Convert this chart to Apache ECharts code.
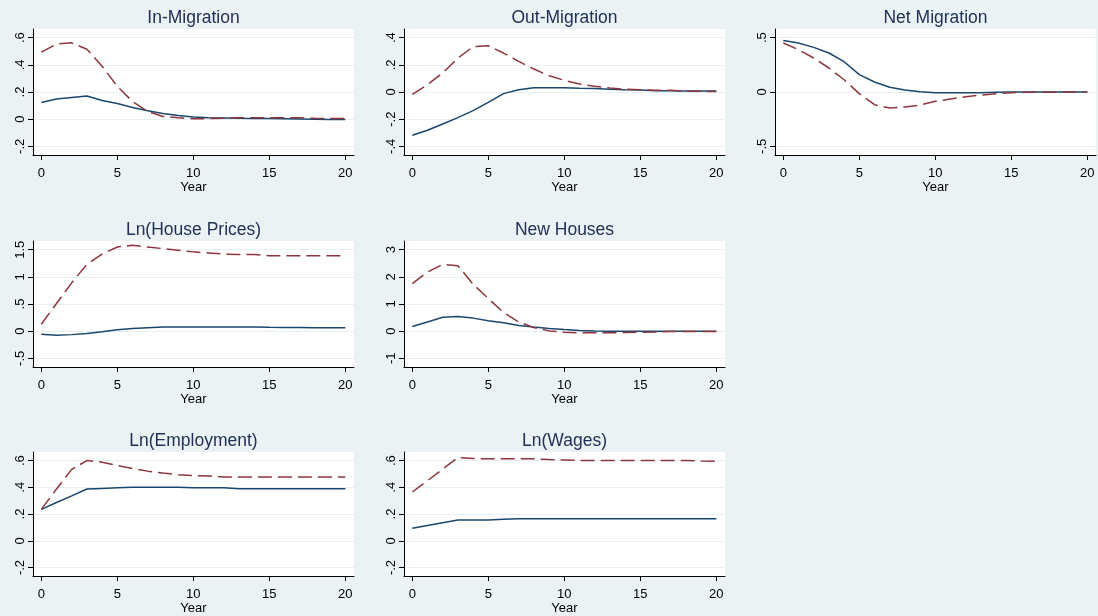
<!DOCTYPE html>
<html>
<head>
<meta charset="utf-8">
<script src="https://cdn.jsdelivr.net/npm/echarts@6/dist/echarts.min.js"></script>
<style>
html,body{margin:0;padding:0;background:#eaf2f3;}
#chart{width:1098px;height:616px;}
</style>
</head>
<body>
<div id="chart"></div>
<script>
// ---- data ----
const years = [0,1,2,3,4,5,6,7,8,9,10,11,12,13,14,15,16,17,18,19,20];
const xTicks = [0,5,10,15,20];

const panelTitles = ['In-Migration','Out-Migration','Net Migration','Ln(House Prices)','New Houses','Ln(Employment)','Ln(Wages)'];

const yTicksIn  = [-0.2,0,0.2,0.4,0.6];
const yTicksOut = [-0.4,-0.2,0,0.2,0.4];
const yTicksNet = [-0.5,0,0.5];
const yTicksHP  = [-0.5,0,0.5,1,1.5];
const yTicksNH  = [-1,0,1,2,3];
const yTicksEmp = [-0.2,0,0.2,0.4,0.6];
const yTicksWag = [-0.2,0,0.2,0.4,0.6];

const inSolid  = [0.123,0.148,0.160,0.170,0.138,0.116,0.086,0.062,0.042,0.027,0.015,0.010,0.008,0.006,0.005,0.004,0.003,0.002,0.000,-0.002,-0.003];
const inDash   = [0.494,0.553,0.562,0.515,0.390,0.241,0.130,0.057,0.020,0.010,0.003,0.004,0.007,0.010,0.010,0.010,0.010,0.010,0.006,0.005,0.005];

const outSolid = [-0.319,-0.282,-0.236,-0.189,-0.137,-0.076,-0.012,0.017,0.032,0.032,0.032,0.027,0.025,0.020,0.017,0.015,0.010,0.010,0.007,0.007,0.007];
const outDash  = [-0.017,0.054,0.140,0.250,0.334,0.341,0.287,0.226,0.169,0.120,0.086,0.059,0.042,0.030,0.020,0.017,0.012,0.012,0.005,0.005,0.003];

const netSolid = [0.475,0.451,0.411,0.359,0.279,0.160,0.092,0.043,0.018,0.003,-0.006,-0.006,-0.006,-0.006,-0.003,0.000,0.000,0.000,0.000,0.000,0.000];
const netDash  = [0.451,0.390,0.313,0.221,0.113,-0.015,-0.117,-0.147,-0.138,-0.120,-0.086,-0.064,-0.043,-0.028,-0.015,-0.006,-0.003,-0.003,-0.002,0.000,0.000];

const hpSolid  = [-0.058,-0.077,-0.064,-0.045,-0.013,0.026,0.051,0.064,0.077,0.077,0.077,0.077,0.077,0.077,0.077,0.070,0.067,0.067,0.064,0.064,0.064];
const hpDash   = [0.128,0.51,0.89,1.23,1.42,1.55,1.58,1.55,1.52,1.49,1.46,1.44,1.42,1.41,1.41,1.39,1.39,1.39,1.39,1.39,1.39];

const nhSolid  = [0.17,0.34,0.51,0.54,0.48,0.38,0.31,0.21,0.15,0.10,0.06,0.025,0.005,0.0,0.0,0.0,0.0,0.0,0.0,0.0,0.0];
const nhDash   = [1.75,2.18,2.46,2.41,1.73,1.20,0.69,0.34,0.13,0.01,-0.04,-0.06,-0.06,-0.06,-0.05,-0.04,-0.03,-0.01,-0.01,-0.01,-0.01];

const empSolid = [0.235,0.286,0.336,0.387,0.392,0.397,0.401,0.401,0.401,0.401,0.397,0.397,0.397,0.389,0.389,0.389,0.389,0.389,0.389,0.389,0.389];
const empDash  = [0.235,0.387,0.534,0.600,0.588,0.563,0.541,0.521,0.507,0.494,0.487,0.485,0.477,0.477,0.477,0.477,0.477,0.477,0.477,0.477,0.477];

const wagSolid = [0.093,0.114,0.135,0.156,0.156,0.156,0.161,0.164,0.164,0.164,0.164,0.164,0.164,0.164,0.164,0.164,0.164,0.164,0.164,0.164,0.164];
const wagDash  = [0.365,0.450,0.536,0.623,0.616,0.613,0.613,0.613,0.613,0.608,0.605,0.600,0.600,0.600,0.600,0.600,0.600,0.600,0.600,0.597,0.595];

const panelTicks = [yTicksIn,yTicksOut,yTicksNet,yTicksHP,yTicksNH,yTicksEmp,yTicksWag];
const panelSolid = [inSolid,outSolid,netSolid,hpSolid,nhSolid,empSolid,wagSolid];
const panelDash  = [inDash,outDash,netDash,hpDash,nhDash,empDash,wagDash];

// ---- layout ----
const cells = [[0,0],[0,1],[0,2],[1,0],[1,1],[2,0],[2,1]];
const colLeft = [33,404,775];
const rowTop = [29,241,452];
const PW = 321, PH = 126;
const padL = 8.3, padR = 8.7, padT = 8.7, padB = 8.7;
const FONT = 'Liberation Sans, Arial, sans-serif';
const BLUE = '#1a476f', RED = '#90353b';

function fmt(v){
  let s = String(Math.round(v*1000)/1000);
  s = s.replace(/^0\./,'.').replace(/^-0\./,'-.');
  return s;
}
function range(ticks, pixels, p0, p1){
  const a = ticks[0], b = ticks[ticks.length-1];
  const u = (b-a)/(pixels-p0-p1);
  return [a - p0*u, b + p1*u];
}

const grid=[], xAxis=[], yAxis=[], series=[], title=[];
panelTitles.forEach((t,i)=>{
  const [r,c] = cells[i];
  const left = colLeft[c], top = rowTop[r];
  grid.push({left:left, top:top, width:PW, height:PH, show:true, backgroundColor:'#ffffff', borderWidth:0, containLabel:false});
  const xr = range(xTicks, PW, padL, padR);
  const yr = range(panelTicks[i], PH, padB, padT);
  xAxis.push({
    type:'value', gridIndex:i, min:xr[0], max:xr[1],
    name:'Year', nameLocation:'middle', nameGap:21.5,
    nameTextStyle:{fontFamily:FONT, fontSize:13, color:'#000'},
    axisLine:{show:true, onZero:false, lineStyle:{color:'#000', width:1}},
    axisTick:{show:true, length:5, lineStyle:{color:'#000'}, customValues:xTicks},
    axisLabel:{show:true, customValues:xTicks, fontFamily:FONT, fontSize:13, color:'#000', margin:12, formatter:v=>fmt(v)},
    splitLine:{show:false}
  });
  yAxis.push({
    type:'value', gridIndex:i, min:yr[0], max:yr[1],
    axisLine:{show:true, onZero:false, lineStyle:{color:'#000', width:1}},
    axisTick:{show:true, length:5, lineStyle:{color:'#000'}, customValues:panelTicks[i]},
    axisLabel:{show:true, customValues:panelTicks[i], rotate:90, fontFamily:FONT, fontSize:13, color:'#000', margin:6, formatter:v=>fmt(v)},
    splitLine:{show:true, lineStyle:{color:'#e6eff1', width:1.2}}
  });
  title.push({
    text:t, left:left+PW/2, top:top-20, textAlign:'center', padding:0,
    textStyle:{fontFamily:FONT, fontSize:17.5, fontWeight:'normal', color:'#22305a'}
  });
  series.push({
    type:'line', xAxisIndex:i, yAxisIndex:i, showSymbol:false, symbol:'none', silent:true,
    data: years.map((y,k)=>[y, panelSolid[i][k]]),
    lineStyle:{color:BLUE, width:1.5}, z:3
  });
  series.push({
    type:'line', xAxisIndex:i, yAxisIndex:i, showSymbol:false, symbol:'none', silent:true,
    data: years.map((y,k)=>[y, panelDash[i][k]]),
    lineStyle:{color:RED, width:1.5, type:[14,6]}, z:4
  });
});

const chart = echarts.init(document.getElementById('chart'), null, {renderer:'canvas'});
chart.setOption({
  backgroundColor:'#eaf2f3',
  animation:false,
  title, grid, xAxis, yAxis, series
});
</script>
</body>
</html>
